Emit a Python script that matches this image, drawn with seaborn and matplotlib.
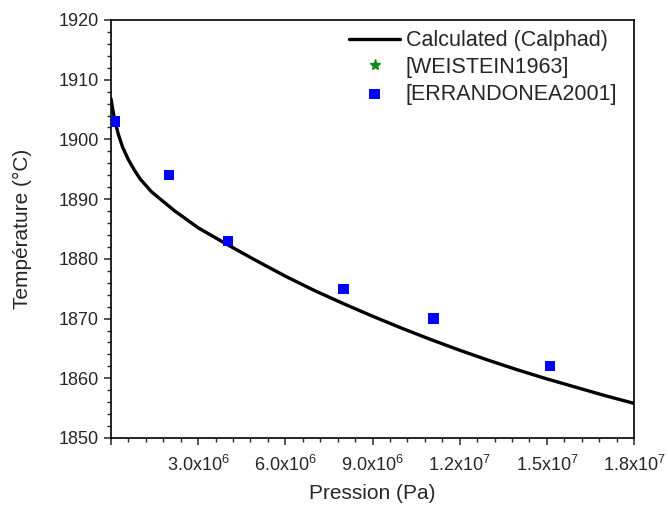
import matplotlib
matplotlib.use("Agg")
import matplotlib.pyplot as plt
import matplotlib.ticker as mticker
import seaborn as sns
import numpy as np
import pandas as pd

# Calculated (Calphad) curve
calc_p = [0.0, 5.0e4, 1.3e5, 2.5e5, 4.0e5, 6.0e5, 8.0e5, 1.0e6, 1.4e6, 1.8e6,
          2.2e6, 3.0e6, 4.0e6, 5.0e6, 6.0e6, 7.0e6, 8.0e6, 9.0e6, 1.0e7,
          1.1e7, 1.2e7, 1.3e7, 1.4e7, 1.5e7, 1.6e7, 1.7e7, 1.8e7]
calc_t = [1906.8, 1905.3, 1903.2, 1900.9, 1898.7, 1896.6, 1894.9, 1893.4, 1891.2, 1889.6,
          1888.0, 1885.2, 1882.4, 1879.7, 1877.1, 1874.7, 1872.5, 1870.4, 1868.4,
          1866.5, 1864.7, 1863.0, 1861.4, 1859.9, 1858.5, 1857.1, 1855.8]

# [WEISTEIN1963] – no visible points in the plot
weis_p = []
weis_t = []

# [ERRANDONEA2001]
err_p = [1.4e5, 2.0e6, 4.03e6, 8.0e6, 11.1e6, 15.1e6]
err_t = [1903, 1894, 1883, 1875, 1870, 1862]

sns.set_style("white")
plt.rcParams['font.family'] = ['Liberation Sans', 'DejaVu Sans']
plt.rcParams['mathtext.default'] = 'regular'

fig = plt.figure(figsize=(6.68, 5.12), dpi=100)
ax = fig.add_axes([111/668, 1-438/512, (634-111)/668, (438-20)/512])

calc_df = pd.DataFrame({"p": calc_p, "t": calc_t})
err_df = pd.DataFrame({"p": err_p, "t": err_t})
weis_df = pd.DataFrame({"p": pd.Series(weis_p, dtype=float), "t": pd.Series(weis_t, dtype=float)})

sns.lineplot(data=calc_df, x="p", y="t", sort=False, color="black", linewidth=2.4,
             ax=ax, label="Calculated (Calphad)")
ax.plot(weis_df["p"], weis_df["t"], linestyle="none", marker="*", color="#138a13",
        markersize=8, label="[WEISTEIN1963]")
sns.scatterplot(data=err_df, x="p", y="t", marker="s", color="#0000ff", s=55,
                edgecolor="none", ax=ax, label="[ERRANDONEA2001]", zorder=3)

ax.set_xlim(0, 1.8e7)
ax.set_ylim(1850, 1920)
ax.xaxis.set_major_locator(mticker.MultipleLocator(3e6))
ax.xaxis.set_minor_locator(mticker.MultipleLocator(6e5))
ax.yaxis.set_major_locator(mticker.MultipleLocator(10))
ax.yaxis.set_minor_locator(mticker.MultipleLocator(2))

def xfmt(v, pos):
    if v <= 0:
        return ""
    e = int(np.floor(np.log10(v) + 1e-9))
    m = v / 10**e
    return f"{m:.1f}x10$^{{{e}}}$"

ax.xaxis.set_major_formatter(mticker.FuncFormatter(xfmt))

ax.tick_params(axis="both", which="major", direction="out", length=5, width=1.1,
               labelsize=13, bottom=True, left=True, top=False, right=False, pad=4)
ax.tick_params(axis="x", which="major", pad=7)
ax.tick_params(axis="both", which="minor", direction="out", length=3, width=1.0,
               bottom=True, left=True, top=False, right=False)

for s in ax.spines.values():
    s.set_visible(True)
    s.set_color("black")
    s.set_linewidth(1.2)

ax.set_xlabel("Pression (Pa)", fontsize=15, labelpad=7)
ax.set_ylabel("Température (°C)", fontsize=15, labelpad=19)

leg = ax.legend(loc="upper right", frameon=False, fontsize=15.5, handlelength=2.4,
                handletextpad=0.25, labelspacing=0.27, borderaxespad=0.3,
                bbox_to_anchor=(0.997, 1.012))

fig.savefig("out.png", dpi=100)
